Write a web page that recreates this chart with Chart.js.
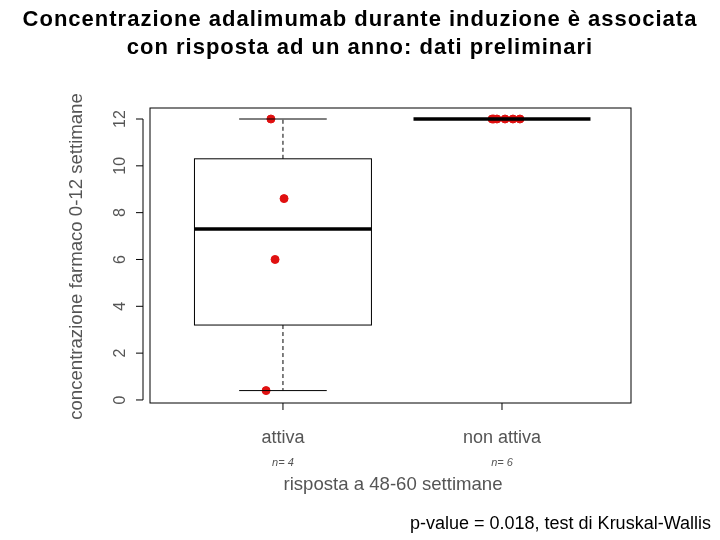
<!DOCTYPE html>
<html><head><meta charset="utf-8">
<script src="https://cdn.jsdelivr.net/npm/chart.js@4"></script>
<style>
body{margin:0;background:#fff;width:720px;height:540px;position:relative;overflow:hidden;font-family:"Liberation Sans",Arial,sans-serif}
#t{position:absolute;top:5px;left:0;width:720px;text-align:center;font-weight:bold;font-size:22px;letter-spacing:1px;line-height:28px}
#p{position:absolute;left:410px;top:513px;font-size:18px}
canvas{position:absolute;left:0;top:0}
</style></head><body>
<canvas id="c" width="720" height="540"></canvas>
<div id="t">Concentrazione adalimumab durante induzione è associata<br>con risposta ad un anno: dati preliminari</div>
<div id="p">p-value = 0.018, test di Kruskal-Wallis</div>
<script>
const categories=["attiva","non attiva"];
const counts=["n= 4","n= 6"];
const q1=[3.2,12], med=[7.3,12], q3=[10.3,12], wlo=[0.4,12], whi=[12,12];
const ptsX=[0.945,1.005,0.964,0.923, 1.955,1.962,1.977,2.014,2.05,2.082];
const ptsY=[12,8.6,6.0,0.4, 12,12,12,12,12,12];
const yTicks=[0,2,4,6,8,10,12];
const yTitle="concentrazione farmaco 0-12 settimane";
const xTitle="risposta a 48-60 settimane";

const boxPlug={id:'box',afterDatasetsDraw(ch){
 const c=ch.ctx,x=ch.scales.x,y=ch.scales.y,a=ch.chartArea;
 c.save();c.strokeStyle='#000';
 categories.forEach((cat,i)=>{
  const xc=x.getPixelForValue(i+1),bl=x.getPixelForValue(i+1-0.404),br=x.getPixelForValue(i+1+0.404);
  const cl=x.getPixelForValue(i+1-0.2),cr=x.getPixelForValue(i+1+0.2);
  c.lineWidth=1;c.setLineDash([4,3]);c.beginPath();
  c.moveTo(xc,y.getPixelForValue(q3[i]));c.lineTo(xc,y.getPixelForValue(whi[i]));
  c.moveTo(xc,y.getPixelForValue(q1[i]));c.lineTo(xc,y.getPixelForValue(wlo[i]));c.stroke();
  c.setLineDash([]);c.beginPath();
  c.moveTo(cl,y.getPixelForValue(whi[i]));c.lineTo(cr,y.getPixelForValue(whi[i]));
  c.moveTo(cl,y.getPixelForValue(wlo[i]));c.lineTo(cr,y.getPixelForValue(wlo[i]));c.stroke();
  if(q3[i]>q1[i]){c.strokeRect(bl,y.getPixelForValue(q3[i]),br-bl,y.getPixelForValue(q1[i])-y.getPixelForValue(q3[i]));}
  c.lineWidth=3.5;c.beginPath();c.moveTo(bl,y.getPixelForValue(med[i]));c.lineTo(br,y.getPixelForValue(med[i]));c.stroke();
 });
 c.restore();
},afterDraw(ch){
 const c=ch.ctx,x=ch.scales.x,y=ch.scales.y,a=ch.chartArea;
 c.save();c.strokeStyle='#000';c.fillStyle='#000';c.lineWidth=1;
 c.strokeRect(a.left,a.top,a.right-a.left,a.bottom-a.top);
 c.beginPath();c.moveTo(a.left-7,y.getPixelForValue(0));c.lineTo(a.left-7,y.getPixelForValue(12));
 yTicks.forEach(v=>{const p=y.getPixelForValue(v);c.moveTo(a.left-7,p);c.lineTo(a.left-14,p);});
 categories.forEach((cat,i)=>{const p=x.getPixelForValue(i+1);c.moveTo(p,a.bottom);c.lineTo(p,a.bottom+7);});
 c.stroke();
 c.font='16px "Liberation Sans",Arial';c.fillStyle='#555';c.textAlign='center';c.textBaseline='middle';
 yTicks.forEach(v=>{c.save();c.translate(121,y.getPixelForValue(v));c.rotate(-Math.PI/2);c.fillText(String(v),0,0);c.restore();});
 c.font='18.6px "Liberation Sans",Arial';
 c.save();c.translate(77,(a.top+a.bottom)/2+1);c.rotate(-Math.PI/2);c.fillText(yTitle,0,0);c.restore();
 c.font='18px "Liberation Sans",Arial';
 categories.forEach((cat,i)=>{const p=x.getPixelForValue(i+1);c.fillText(cat,p,438);});
 c.font='italic 11px "Liberation Sans",Arial';
 categories.forEach((cat,i)=>{const p=x.getPixelForValue(i+1);c.fillText(counts[i],p,463);});
 c.font='18.6px "Liberation Sans",Arial';c.fillText(xTitle,393,485);
 c.restore();
}};

new Chart(document.getElementById('c'),{type:'scatter',
 data:{datasets:[{data:ptsX.map((v,i)=>({x:v,y:ptsY[i]})),backgroundColor:'#e01010',borderColor:'#e01010',pointRadius:4}]},
 options:{responsive:false,animation:false,events:[],
  layout:{padding:{left:150,right:89,top:108,bottom:137}},
  plugins:{legend:{display:false},tooltip:{enabled:false}},
  scales:{x:{type:'linear',min:0.393,max:2.589,display:false},y:{min:-0.13,max:12.47,display:false}}},
 plugins:[boxPlug]});
</script></body></html>
